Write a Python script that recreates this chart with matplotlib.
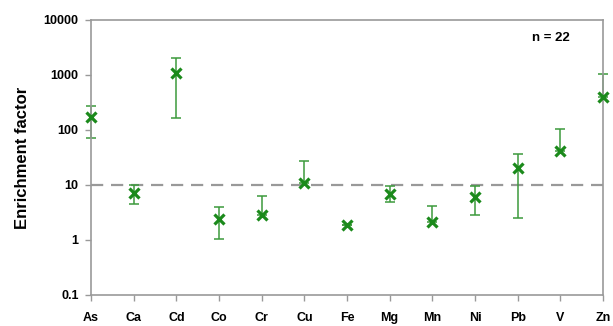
import numpy as np
import matplotlib.pyplot as plt

plt.rcParams['font.family'] = ['Liberation Sans', 'DejaVu Sans']

# enrichment factors per element (median with lower/upper range)
elements = ["As", "Ca", "Cd", "Co", "Cr", "Cu", "Fe", "Mg", "Mn", "Ni", "Pb", "V", "Zn"]
ef_mid = [174, 7.1, 1070, 2.4, 2.9, 11, 1.9, 6.9, 2.1, 6.0, 20, 42, 400]
ef_low = [71, 4.5, 163, 1.05, 2.9, 11, 1.9, 4.9, 2.1, 2.8, 2.5, 42, 400]
ef_high = [275, 10, 2040, 4.0, 6.3, 27, 1.9, 9.5, 4.2, 9.6, 36, 105, 1050]
threshold = 10
n_samples = 22

x = np.arange(len(elements))
mid = np.array(ef_mid)
yerr = [mid - np.array(ef_low), np.array(ef_high) - mid]

fig = plt.figure(figsize=(6.13, 3.26), dpi=100)
ax = fig.add_axes([0.1485, 0.0951, 0.8352, 0.8436])

ax.axhline(threshold, color="#999999", lw=1.6, ls=(0, (5.5, 3.5)), zorder=1)
eb = ax.errorbar(x, mid, yerr=yerr, fmt="none", ecolor="#3c9a3c", elinewidth=1.1,
                 capsize=3.5, capthick=1.1, zorder=2)
for art in eb.get_children():
    art.set_clip_on(False)
ax.plot(x, mid, ls="none", marker="x", ms=7, mew=2.3, color="#1b8a1b",
        zorder=3, clip_on=False)

ax.set_yscale("log")
ax.set_ylim(0.1, 10000)
ax.set_xlim(0, len(elements) - 1)
ax.set_yticks([0.1, 1, 10, 100, 1000, 10000])
ax.set_yticklabels(["0.1", "1", "10", "100", "1000", "10000"])
ax.minorticks_off()
ax.set_xticks(x)
ax.set_xticklabels(elements)

for s in ax.spines.values():
    s.set_color("#999999")
    s.set_linewidth(1.2)
ax.tick_params(axis="both", color="#999999", length=4, width=1.0, labelsize=9)
ax.tick_params(axis="x", pad=8)
ax.tick_params(axis="y", pad=5)
for lab in ax.get_xticklabels() + ax.get_yticklabels():
    lab.set_fontweight("bold")

ax.set_ylabel("Enrichment factor", fontsize=12, fontweight="bold", labelpad=10)
ax.text(0.935, 0.935, f"n = {n_samples}", transform=ax.transAxes, ha="right",
        va="center", fontsize=9.5, fontweight="bold")

fig.savefig("out.png", dpi=100)
